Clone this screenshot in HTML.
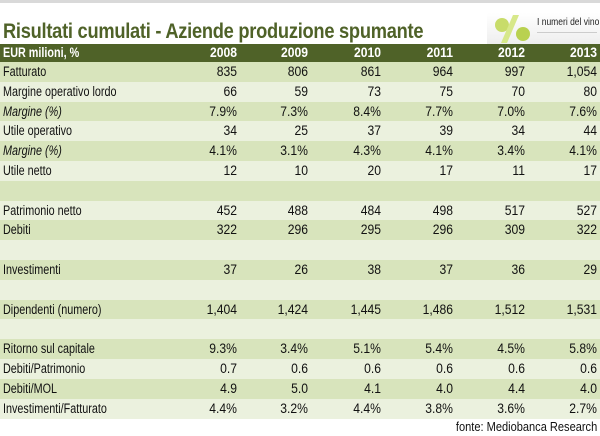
<!DOCTYPE html>
<html><head><meta charset="utf-8"><style>
body{margin:0;width:600px;height:436px;background:#fff;overflow:hidden;position:relative;font-family:"Liberation Sans",sans-serif;}
.top{position:absolute;left:0;top:0;width:600px;height:3px;background:#d9d9d9}
.title{position:absolute;left:3px;top:20px;font-size:21px;font-weight:bold;color:#4f6228;letter-spacing:-0.3px;white-space:nowrap;transform:scaleX(0.87);transform-origin:left}
.logo{position:absolute;left:487px;top:13px;width:113px;height:31px;background:linear-gradient(#fff,#eee);overflow:hidden}
.logo span{position:absolute;left:50px;top:4px;font-size:10px;color:#222;white-space:nowrap;transform:scaleX(0.85);transform-origin:left}
.logo i{position:absolute;left:50px;top:19px;width:60px;height:1px;background:#ccc}
.r{position:absolute;left:0;width:600px;height:20px;font-size:13.5px;color:#111}
.r div{position:absolute;top:2px;white-space:nowrap}
.lb{transform:scaleX(0.8);transform-origin:left}
.h{background:#4f6228;color:#fff;font-weight:bold;height:18px}
.d{background:#d8e4bc}.l{background:#ebf1de}
.n{text-align:right;width:60px;transform:scaleX(0.9);transform-origin:right}
.it{font-style:italic}
.fonte{position:absolute;right:3px;top:419px;font-size:13px;color:#111;transform:scaleX(0.85);transform-origin:right}
</style></head><body>
<div class="top"></div>
<div class="title">Risultati cumulati - Aziende produzione spumante</div>
<div class="logo"><svg width="48" height="31" style="position:absolute;left:2px;top:0"><circle cx="13" cy="12" r="7" fill="#c8dc6a"/><polygon points="24,2 30,2 18,30 12,30" fill="#d7e88a"/><circle cx="34" cy="21" r="7" fill="#b9d150"/></svg><span>I numeri del vino</span><i></i></div>
<div id="t"></div>
<div class="fonte">fonte: Mediobanca Research</div>
<script>
var rows=[["EUR milioni, %","2008","2009","2010","2011","2012","2013"],
["Fatturato","835","806","861","964","997","1,054"],
["Margine operativo lordo","66","59","73","75","70","80"],
["Margine (%)","7.9%","7.3%","8.4%","7.7%","7.0%","7.6%"],
["Utile operativo","34","25","37","39","34","44"],
["Margine (%)","4.1%","3.1%","4.3%","4.1%","3.4%","4.1%"],
["Utile netto","12","10","20","17","11","17"],
[""],
["Patrimonio netto","452","488","484","498","517","527"],
["Debiti","322","296","295","296","309","322"],
[""],
["Investimenti","37","26","38","37","36","29"],
[""],
["Dipendenti (numero)","1,404","1,424","1,445","1,486","1,512","1,531"],
[""],
["Ritorno sul capitale","9.3%","3.4%","5.1%","5.4%","4.5%","5.8%"],
["Debiti/Patrimonio","0.7","0.6","0.6","0.6","0.6","0.6"],
["Debiti/MOL","4.9","5.0","4.1","4.0","4.4","4.0"],
["Investimenti/Fatturato","4.4%","3.2%","4.4%","3.8%","3.6%","2.7%"]];
var R=[237,308,381,453,525,597],h="";
rows.forEach(function(r,i){
 var top=i==0?44:62+(i-1)*19.8;
 var c=i==0?"h":((i-1)%2==0?"d":"l");
 h+='<div class="r '+c+'" style="top:'+top+'px;height:'+(i==0?18:20)+'px"><div style="left:3px'+(i==0?';top:1px':'')+'" class="lb '+(r[0]=="Margine (%)"?"it":"")+'">'+r[0]+'</div>';
 for(var j=1;j<r.length;j++)h+='<div class="n" style="left:'+(R[j-1]-60)+'px;'+(i==0?'top:1px':'')+'">'+r[j]+'</div>';
 h+='</div>';});
document.getElementById("t").innerHTML=h;
</script>
</body></html>
